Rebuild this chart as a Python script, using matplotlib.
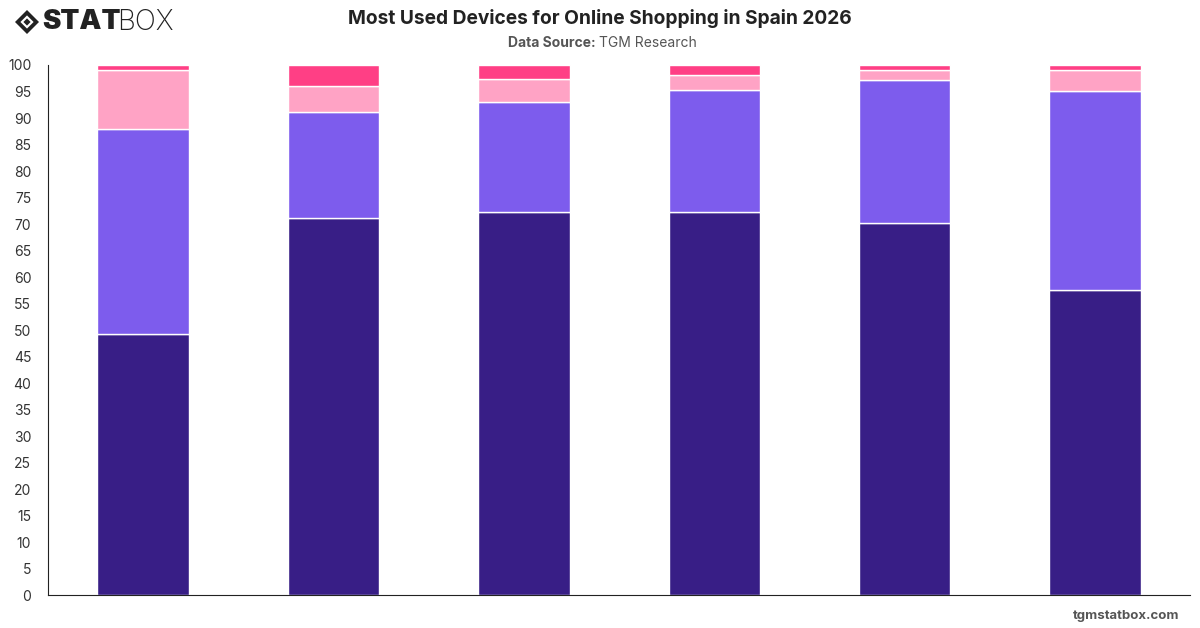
import numpy as np
import matplotlib
matplotlib.use("Agg")
import matplotlib.pyplot as plt
from matplotlib.patches import Polygon

plt.rcParams["font.family"] = ["Inter", "DejaVu Sans"]

# data (six stacked bars, no category labels shown)
categories = ["", "", "", "", "", ""]
seg_dark = [49.2, 71.2, 72.2, 72.2, 70.1, 57.6]
seg_purple = [38.7, 19.9, 20.9, 23.0, 27.1, 37.5]
seg_light = [11.1, 5.0, 4.2, 2.9, 1.8, 3.9]
seg_hot = [1.0, 3.9, 2.7, 1.9, 1.0, 1.0]
colors = ["#381e86", "#7d5ced", "#ffa3c5", "#ff3f85"]
yticks = list(range(0, 101, 5))

fig = plt.figure(figsize=(12, 6.28), dpi=100)
ax = fig.add_axes([0.04, 0.0525, 0.9517, 0.844])

x = np.arange(len(categories))
bottom = np.zeros(len(categories))
for vals, c in zip([seg_dark, seg_purple, seg_light, seg_hot], colors):
    ax.bar(x, vals, width=0.48, bottom=bottom, color=c,
           edgecolor="white", linewidth=1.0, zorder=2)
    bottom += np.array(vals)

ax.set_xlim(-0.5, len(categories) - 0.5)
ax.set_ylim(0, 100)
ax.set_yticks(yticks)
ax.set_xticks([])
ax.tick_params(axis="y", length=0, pad=12, labelsize=10, labelcolor="#333333")
for lab in ax.get_yticklabels():
    lab.set_horizontalalignment("right")
ax.spines["top"].set_visible(False)
ax.spines["right"].set_visible(False)
ax.spines["left"].set_color("#222222")
ax.spines["bottom"].set_color("#222222")

# header
fig.text(0.5, 0.971, "Most Used Devices for Online Shopping in Spain 2026",
         ha="center", va="center", fontsize=13.8, fontweight="bold", color="#222222")
fig.text(0.499, 0.931, "Data Source: ", ha="right", va="center", fontsize=10,
         fontweight="bold", color="#555555")
fig.text(0.499, 0.931, "TGM Research", ha="left", va="center", fontsize=10,
         color="#555555")

# logo
cx, cy = 27 / 1200, 1 - 22 / 628
dx, dy = 12 / 1200, 12 / 628
outer = Polygon([[cx - dx, cy], [cx, cy + dy], [cx + dx, cy], [cx, cy - dy]],
                closed=True, transform=fig.transFigure, facecolor="#222222")
inner = Polygon([[cx - dx * 0.55, cy], [cx, cy + dy * 0.55], [cx + dx * 0.55, cy], [cx, cy - dy * 0.55]],
                closed=True, transform=fig.transFigure, facecolor="white")
core = Polygon([[cx - dx * 0.3, cy], [cx, cy + dy * 0.3], [cx + dx * 0.3, cy], [cx, cy - dy * 0.3]],
               closed=True, transform=fig.transFigure, facecolor="#222222")
for p in (outer, inner, core):
    fig.patches.append(p)
fig.text(42 / 1200, cy, "STAT", ha="left", va="center", fontsize=20,
         fontweight="black", color="#222222")
fig.text(117 / 1200, cy, "BOX", ha="left", va="center", fontsize=20,
         fontweight="light", color="#222222")

fig.text(0.983, 0.019, "tgmstatbox.com", ha="right", va="center", fontsize=9.5,
         fontweight="bold", color="#555555")

fig.savefig("out.png", dpi=100)
